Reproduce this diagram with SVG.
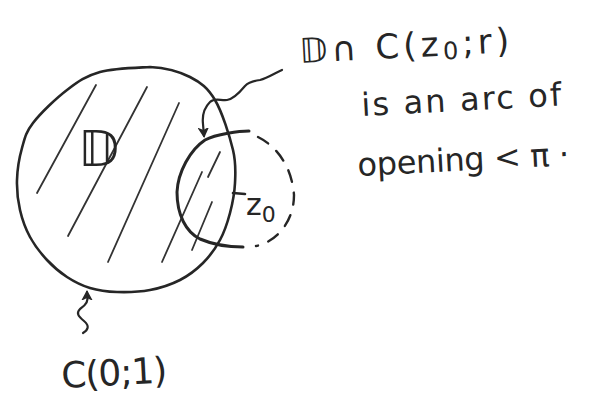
<svg xmlns="http://www.w3.org/2000/svg" width="589" height="402" viewBox="0 0 589 402">
<defs>
<style>
.ink{fill:none;stroke:#262626;stroke-linecap:round;stroke-linejoin:round}
.hatch{fill:none;stroke:#333;stroke-width:1.8;stroke-linecap:round}
.txt{font-family:"DejaVu Sans","Noto Sans",sans-serif;fill:#262626}
</style>
<marker id="ah" markerUnits="userSpaceOnUse" markerWidth="16" markerHeight="16" viewBox="-8 -8 16 16" refX="0" refY="0" orient="auto">
<path d="M2,0 L-9,-6 L-6,0 L-9,6 Z" fill="#262626"/>
</marker>
</defs>
<rect width="589" height="402" fill="#fff"/>
<g id="unit-disk">
<path class="ink" stroke-width="2.6" d="M150,67 C165,67.8 179.2,71.5 190,77 C200.8,82.5 207.8,87.8 215,100 C222.2,112.2 229.7,136.2 233,150 C236.3,163.8 235.5,172.5 235,183 C234.5,193.5 232.5,203.5 230,213 C227.5,222.5 224.5,231.7 220,240 C215.5,248.3 209.7,256.3 203,263 C196.3,269.7 188.8,275.5 180,280 C171.2,284.5 160.5,288 150,290 C139.5,292 127,292.3 117,292 C107,291.7 98.3,290.5 90,288 C81.7,285.5 74.2,281.7 67,277 C59.8,272.3 53.2,266.7 47,260 C40.8,253.3 34.5,245.3 30,237 C25.5,228.7 22.2,219.5 20,210 C17.8,200.5 16.7,190.3 17,180 C17.3,169.7 19.3,157.5 22,148 C24.7,138.5 25.5,132.7 33,123 C40.5,113.3 55.8,98.5 67,90 C78.2,81.5 86.2,75.8 100,72 C113.8,68.2 135,67.8 150,67 Z"/>
<line class="hatch" x1="96" y1="85" x2="37" y2="193"/>
<line class="hatch" x1="147" y1="87" x2="68" y2="236"/>
<line class="hatch" x1="179" y1="103" x2="108" y2="262"/>
<line class="hatch" x1="202" y1="172" x2="162" y2="262"/>
<line class="hatch" x1="220" y1="152" x2="208" y2="177"/>
<line class="hatch" x1="212" y1="202" x2="192" y2="250"/>
<text class="txt" x="78" y="166" font-size="50">𝔻</text>
</g>
<g id="circle-z0">
<path class="ink" stroke-width="3" d="M249,131 C240,131 216,134 205,140 C190,150 178,172 177,192 C177,215 186,232 200,239 C214,245 230,247 243,247"/>
<path class="ink" stroke-width="2.4" stroke-dasharray="12 11" d="M258,137 C278,147 292,168 294,195 C294,222 276,242 256,246"/>
<line class="ink" stroke-width="2.6" x1="233" y1="193" x2="245" y2="194"/>
<text class="txt" x="246" y="215" font-size="30">z<tspan font-size="22" dy="7">0</tspan></text>
</g>
<g id="label-arc" class="txt">
<text x="300" y="63" font-size="34" textLength="210" lengthAdjust="spacing" transform="rotate(-3 300 63)">𝔻∩ C(z<tspan font-size="24" dy="4">0</tspan><tspan dy="-4">;r)</tspan></text>
<text x="362" y="116" font-size="32" textLength="200" lengthAdjust="spacing" transform="rotate(-3 362 116)">is an arc of</text>
<text x="358" y="176" font-size="32" textLength="212" lengthAdjust="spacing" transform="rotate(-3 358 176)">opening &lt; π ·</text>
</g>
<g id="label-unit-circle" class="txt">
<text x="62" y="388" font-size="36" textLength="106" lengthAdjust="spacing" transform="rotate(-3 62 388)">C(0;1)</text>
</g>
<g id="connectors">
<path class="ink" stroke-width="2.2" marker-end="url(#ah)" d="M282,70 C275,73 268,78 260,80 C253,81 249,82 245,86 C240,92 234,99 227,100 C221,101 215,97 210,102 C205,107 202,115 203,124 L204,136"/>
<path class="ink" stroke-width="2.2" marker-end="url(#ah)" d="M83,333 C88,330 90,326 84,321 C78,316 76,313 80,309 C86,305 89,301 87,296 L87,292"/>
</g>
</svg>
